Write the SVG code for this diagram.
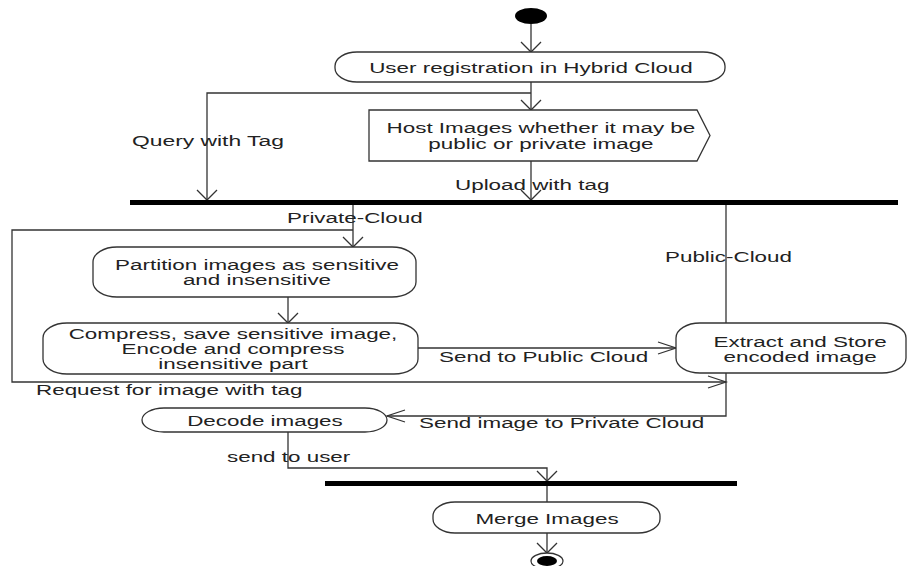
<svg xmlns="http://www.w3.org/2000/svg" width="908" height="566" viewBox="0 0 908 566">
<style>
  .bg{fill:#ffffff}
  .box{fill:#ffffff;stroke:#333333;stroke-width:1.3}
  .ln{fill:none;stroke:#333333;stroke-width:1.3}
  .bar{fill:#000000}
  .t{font-family:"Liberation Sans",Arial,Helvetica,sans-serif;font-size:14px;fill:#222222}
</style>
<defs>
  <marker id="mv" markerUnits="userSpaceOnUse" markerWidth="24" markerHeight="24" viewBox="-12 -12 24 24" refX="0" refY="0" orient="auto" overflow="visible">
    <path d="M-10,-10 L0,0 L-10,10" fill="none" stroke="#333333" stroke-width="1.3"/>
  </marker>
  <marker id="mh" markerUnits="userSpaceOnUse" markerWidth="24" markerHeight="24" viewBox="-20 -8 24 16" refX="0" refY="0" orient="auto" overflow="visible">
    <path d="M-18,-6 L0,0 L-18,6" fill="none" stroke="#333333" stroke-width="1.3"/>
  </marker>
</defs>
<rect class="bg" x="0" y="0" width="908" height="566"/>

<g id="connectors">
  <path id="c1" class="ln" d="M531,24 L531,52" marker-end="url(#mv)"/>
  <path id="c2" class="ln" d="M531,82 L531,110" marker-end="url(#mv)"/>
  <path id="c3" class="ln" d="M531,93 L207,93 L207,200" marker-end="url(#mv)"/>
  <path id="c4" class="ln" d="M531,161 L531,200" marker-end="url(#mv)"/>
  <path id="c5" class="ln" d="M353,205 L353,247" marker-end="url(#mv)"/>
  <path id="c6" class="ln" d="M726,205 L726,323"/>
  <path id="c7" class="ln" d="M288,297 L288,323" marker-end="url(#mv)"/>
  <path id="c8" class="ln" d="M418,348 L676,348" marker-end="url(#mh)"/>
  <path id="c9" class="ln" d="M353,230 L12,230 L12,382 L726,382" marker-end="url(#mh)"/>
  <path id="c10" class="ln" d="M726,373 L726,416 L387,416" marker-end="url(#mh)"/>
  <path id="c11" class="ln" d="M288,432 L288,468 L547,468 L547,481" marker-end="url(#mv)"/>
  <path id="c12" class="ln" d="M547,486 L547,502"/>
  <path id="c13" class="ln" d="M547,533 L547,553" marker-end="url(#mv)"/>
</g>

<g id="labels">
  <text class="t" x="132" y="146" textLength="151.9" lengthAdjust="spacingAndGlyphs">Query with Tag</text>
  <text class="t" x="455" y="190" textLength="154.4" lengthAdjust="spacingAndGlyphs">Upload with tag</text>
  <text class="t" x="287" y="223" textLength="135.7" lengthAdjust="spacingAndGlyphs">Private-Cloud</text>
  <text class="t" x="665" y="262" textLength="127" lengthAdjust="spacingAndGlyphs">Public-Cloud</text>
  <text class="t" x="439" y="362" textLength="209.2" lengthAdjust="spacingAndGlyphs">Send to Public Cloud</text>
  <text class="t" x="36" y="395" textLength="266.4" lengthAdjust="spacingAndGlyphs">Request for image with tag</text>
  <text class="t" x="419" y="428" textLength="285.1" lengthAdjust="spacingAndGlyphs">Send image to Private Cloud</text>
  <text class="t" x="227" y="462" textLength="123.3" lengthAdjust="spacingAndGlyphs">send to user</text>
</g>

<g id="start">
  <ellipse cx="531" cy="16" rx="16" ry="8" fill="#000000"/>
</g>

<g id="n-register">
  <rect class="box" x="335" y="52" width="390" height="30" rx="22" ry="14"/>
  <text class="t" x="369.2" y="73" textLength="323.6" lengthAdjust="spacingAndGlyphs">User registration in Hybrid Cloud</text>
</g>

<g id="n-host">
  <polygon class="box" points="369,110 697,110 710,135.5 697,161 369,161"/>
  <text class="t" x="386.6" y="133" textLength="308.7" lengthAdjust="spacingAndGlyphs">Host Images whether it may be</text>
  <text class="t" x="428.3" y="149" textLength="225.3" lengthAdjust="spacingAndGlyphs">public or private image</text>
</g>

<g id="fork1">
  <rect class="bar" x="130" y="200" width="768" height="5"/>
</g>

<g id="n-partition">
  <rect class="box" x="93" y="247" width="323" height="50" rx="24" ry="15"/>
  <text class="t" x="115.1" y="270" textLength="283.8" lengthAdjust="spacingAndGlyphs">Partition images as sensitive</text>
  <text class="t" x="182.9" y="285" textLength="148.2" lengthAdjust="spacingAndGlyphs">and insensitive</text>
</g>

<g id="n-compress">
  <rect class="box" x="43" y="323" width="375" height="51" rx="24" ry="15"/>
  <text class="t" x="68.7" y="339" textLength="328.6" lengthAdjust="spacingAndGlyphs">Compress, save sensitive image,</text>
  <text class="t" x="121.6" y="354" textLength="222.9" lengthAdjust="spacingAndGlyphs">Encode and compress</text>
  <text class="t" x="158.3" y="369" textLength="149.4" lengthAdjust="spacingAndGlyphs">insensitive part</text>
</g>

<g id="n-extract">
  <rect class="box" x="676" y="323" width="230" height="50" rx="24" ry="15"/>
  <text class="t" x="713.5" y="347" textLength="173.1" lengthAdjust="spacingAndGlyphs">Extract and Store</text>
  <text class="t" x="723.5" y="362" textLength="153.1" lengthAdjust="spacingAndGlyphs">encoded image</text>
</g>

<g id="n-decode">
  <rect class="box" x="142" y="408" width="245" height="24" rx="22" ry="12"/>
  <text class="t" x="187.2" y="426" textLength="155.6" lengthAdjust="spacingAndGlyphs">Decode images</text>
</g>

<g id="join2">
  <rect class="bar" x="325" y="481" width="412" height="5"/>
</g>

<g id="n-merge">
  <rect class="box" x="433" y="502" width="227" height="31" rx="22" ry="14"/>
  <text class="t" x="475.4" y="524" textLength="143.2" lengthAdjust="spacingAndGlyphs">Merge Images</text>
</g>

<g id="end">
  <ellipse cx="547" cy="561" rx="16" ry="8" fill="#ffffff" stroke="#333333" stroke-width="1.3"/>
  <ellipse cx="547" cy="561" rx="10" ry="5" fill="#000000"/>
</g>
</svg>
